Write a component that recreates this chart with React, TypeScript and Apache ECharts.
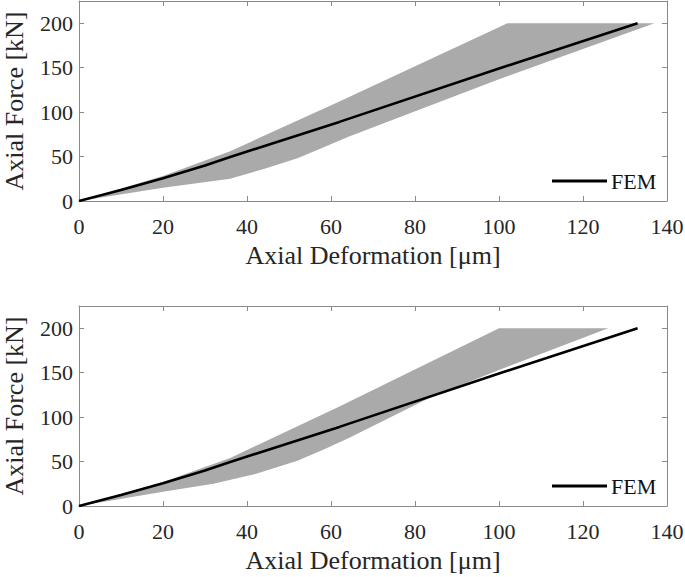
import React, { useEffect, useRef } from "react";
import * as echarts from "echarts";

// Top panel
const femDefTop = [0, 10, 20, 30, 36, 62, 100, 133];
const femForceTop = [0, 12.5, 25.5, 40, 49.5, 89, 149, 200];
const bandUpperDefTop = [0, 20, 36, 62, 102, 137];
const bandUpperForceTop = [0, 28, 56, 112, 200, 200];
const bandLowerDefTop = [0, 20, 36, 44, 52, 58, 64, 100, 137];
const bandLowerForceTop = [0, 15, 25, 36, 48, 60, 72, 137, 200];

// Bottom panel
const femDefBot = [0, 10, 20, 30, 36, 62, 100, 133];
const femForceBot = [0, 12.5, 25.5, 40, 49.5, 89, 149, 200];
const bandUpperDefBot = [0, 20, 36, 62, 100, 126];
const bandUpperForceBot = [0, 27, 54, 112, 200, 200];
const bandLowerDefBot = [0, 20, 32, 42, 52, 58, 64, 84, 100, 126];
const bandLowerForceBot = [0, 16, 25, 36, 51, 63, 76, 123, 153, 200];

const xTicks = [0, 20, 40, 60, 80, 100, 120, 140];
const yTicks = [0, 50, 100, 150, 200];

const FONT = "'Liberation Serif', 'Times New Roman', serif";
const AXIS_GRAY = "#8a8a8a";
const LABEL_COLOR = "#262626";
const BAND_COLOR = "#aaaaaa";

function zip(a: number[], b: number[]) {
  return a.map((v, i) => [v, b[i]]);
}

function polygonOf(ux: number[], uy: number[], lx: number[], ly: number[]) {
  const up = zip(ux, uy);
  const lo = zip(lx, ly).reverse();
  return up.concat(lo);
}

export default function App() {
  const ref = useRef<HTMLDivElement>(null);
  useEffect(() => {
    if (!ref.current) return;
    const chart = echarts.init(ref.current, undefined, { renderer: "svg" });
    const grids = [
      { left: 79, top: 1, width: 588, height: 200, outerBoundsMode: "none", containLabel: false },
      { left: 79, top: 306, width: 588, height: 200, outerBoundsMode: "none", containLabel: false },
    ];
    const xAxes: any[] = [];
    const yAxes: any[] = [];
    grids.forEach((_, gi) => {
      xAxes.push({
        type: "value",
        gridIndex: gi,
        position: "bottom",
        min: xTicks[0],
        max: xTicks[xTicks.length - 1],
        interval: 20,
        name: "Axial Deformation [μm]",
        nameLocation: "middle",
        nameGap: 41,
        nameTextStyle: { fontFamily: FONT, fontSize: 26, color: LABEL_COLOR },
        axisLine: { show: true, onZero: false, lineStyle: { color: AXIS_GRAY, width: 1 } },
        axisTick: { show: true, inside: true, length: 5, lineStyle: { color: AXIS_GRAY } },
        axisLabel: { fontFamily: FONT, fontSize: 22, color: LABEL_COLOR, margin: 14 },
        splitLine: { show: false },
      });
      xAxes.push({
        type: "value",
        gridIndex: gi,
        position: "top",
        min: xTicks[0],
        max: xTicks[xTicks.length - 1],
        interval: 20,
        axisLine: { show: true, onZero: false, lineStyle: { color: AXIS_GRAY, width: 1 } },
        axisTick: { show: true, inside: true, length: 5, lineStyle: { color: AXIS_GRAY } },
        axisLabel: { show: false },
        splitLine: { show: false },
      });
      yAxes.push({
        type: "value",
        gridIndex: gi,
        position: "left",
        min: 0,
        max: 225,
        interval: 50,
        name: "Axial Force [kN]",
        nameLocation: "middle",
        nameGap: 52,
        nameTextStyle: { fontFamily: FONT, fontSize: 26, color: LABEL_COLOR },
        axisLine: { show: true, onZero: false, lineStyle: { color: AXIS_GRAY, width: 1 } },
        axisTick: { show: true, inside: true, length: 5, lineStyle: { color: AXIS_GRAY } },
        axisLabel: {
          fontFamily: FONT,
          fontSize: 22,
          color: LABEL_COLOR,
          margin: 6,
          showMaxLabel: false,
          formatter: (v: number) => (yTicks.indexOf(v) >= 0 ? String(v) : ""),
        },
        splitLine: { show: false },
      });
      yAxes.push({
        type: "value",
        gridIndex: gi,
        position: "right",
        min: 0,
        max: 225,
        interval: 50,
        axisLine: { show: true, onZero: false, lineStyle: { color: AXIS_GRAY, width: 1 } },
        axisTick: { show: true, inside: true, length: 5, lineStyle: { color: AXIS_GRAY } },
        axisLabel: { show: false },
        splitLine: { show: false },
      });
    });

    const bandTop = polygonOf(bandUpperDefTop, bandUpperForceTop, bandLowerDefTop, bandLowerForceTop);
    const bandBot = polygonOf(bandUpperDefBot, bandUpperForceBot, bandLowerDefBot, bandLowerForceBot);

    const bandSeries = (poly: number[][], gi: number) => ({
      type: "custom",
      xAxisIndex: gi * 2,
      yAxisIndex: gi * 2,
      silent: true,
      z: 1,
      data: [[0, 0]],
      renderItem: (params: any, api: any) => {
        const pts = poly.map((p) => api.coord(p));
        return {
          type: "polygon",
          shape: { points: pts },
          style: { fill: BAND_COLOR, stroke: "none" },
        };
      },
    });

    const lineSeries = (xs: number[], ys: number[], gi: number) => ({
      type: "line",
      name: "FEM",
      xAxisIndex: gi * 2,
      yAxisIndex: gi * 2,
      data: zip(xs, ys),
      symbol: "none",
      z: 3,
      lineStyle: { color: "#000000", width: 2.6 },
      itemStyle: { color: "#000000" },
    });

    const legendCfg = (top: number) => ({
      data: ["FEM"],
      left: 552,
      top,
      padding: 0,
      icon: "rect",
      itemWidth: 55,
      itemHeight: 3,
      itemGap: 4,
      selectedMode: false,
      textStyle: { fontFamily: FONT, fontSize: 22, color: "#111111", padding: [0, 0, 0, -1] },
    });

    chart.setOption({
      animation: false,
      backgroundColor: "#ffffff",
      textStyle: { fontFamily: FONT },
      grid: grids,
      xAxis: xAxes,
      yAxis: yAxes,
      legend: [legendCfg(170), legendCfg(475)],
      series: [
        bandSeries(bandTop, 0),
        lineSeries(femDefTop, femForceTop, 0),
        bandSeries(bandBot, 1),
        lineSeries(femDefBot, femForceBot, 1),
      ],
    });
    return () => chart.dispose();
  }, []);
  return (
    <div
      ref={ref}
      style={{ position: "fixed", left: 0, top: 0, width: 685, height: 577, background: "#fff" }}
    />
  );
}
